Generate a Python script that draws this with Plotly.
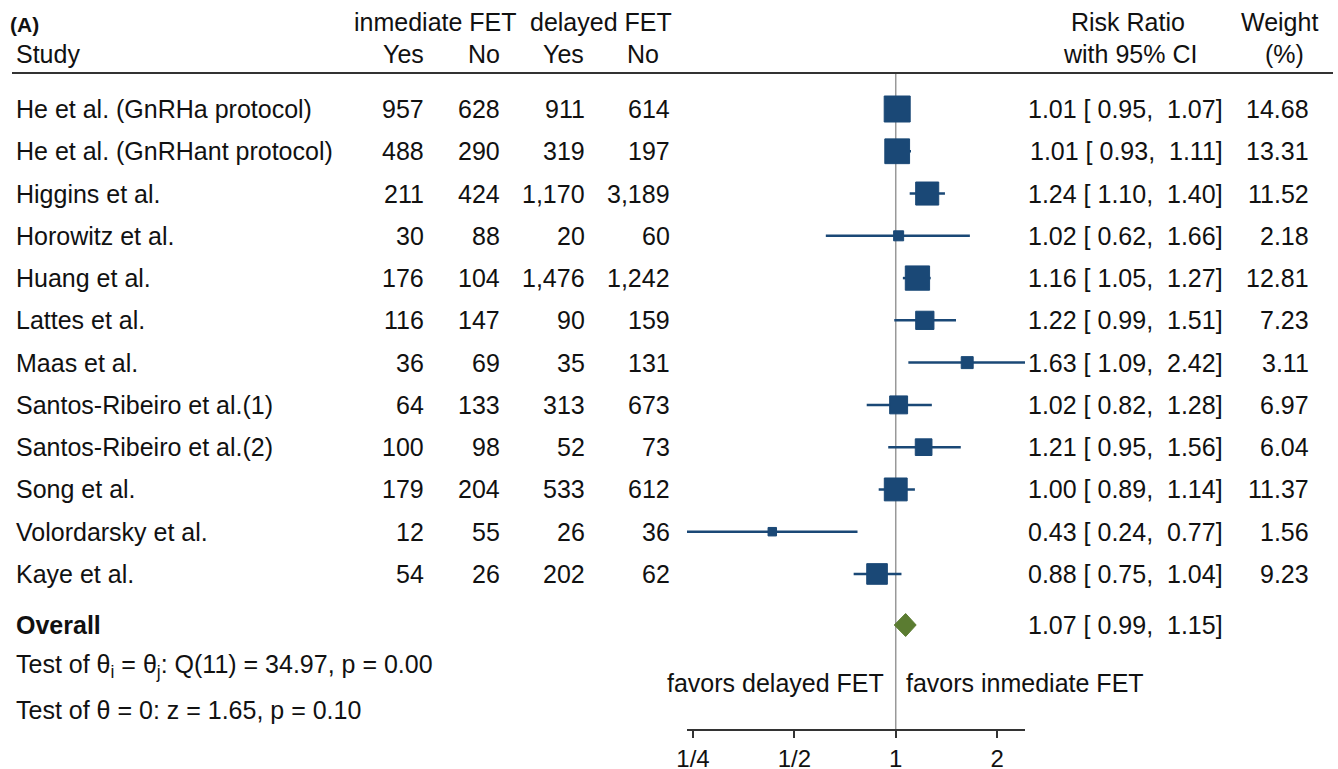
import numpy as np
import plotly.graph_objects as go

# ---- study data -------------------------------------------------------------
studies = [
    "He et al. (GnRHa protocol)", "He et al. (GnRHant protocol)", "Higgins et al.",
    "Horowitz et al.", "Huang et al.", "Lattes et al.", "Maas et al.",
    "Santos-Ribeiro et al.(1)", "Santos-Ribeiro et al.(2)", "Song et al.",
    "Volordarsky et al.", "Kaye et al.",
]
imm_yes = [957, 488, 211, 30, 176, 116, 36, 64, 100, 179, 12, 54]
imm_no = [628, 290, 424, 88, 104, 147, 69, 133, 98, 204, 55, 26]
del_yes = [911, 319, 1170, 20, 1476, 90, 35, 313, 52, 533, 26, 202]
del_no = [614, 197, 3189, 60, 1242, 159, 131, 673, 73, 612, 36, 62]
rr = [1.01, 1.01, 1.24, 1.02, 1.16, 1.22, 1.63, 1.02, 1.21, 1.00, 0.43, 0.88]
ci_low = [0.95, 0.93, 1.10, 0.62, 1.05, 0.99, 1.09, 0.82, 0.95, 0.89, 0.24, 0.75]
ci_high = [1.07, 1.11, 1.40, 1.66, 1.27, 1.51, 2.42, 1.28, 1.56, 1.14, 0.77, 1.04]
weight = [14.68, 13.31, 11.52, 2.18, 12.81, 7.23, 3.11, 6.97, 6.04, 11.37, 1.56, 9.23]

overall_rr, overall_low, overall_high = 1.07, 0.99, 1.15
het_text = "Test of θ<sub>i</sub> = θ<sub>j</sub>: Q(11) = 34.97, p = 0.00"
z_text = "Test of θ = 0: z = 1.65, p = 0.10"

tick_vals = [0.25, 0.5, 1, 2]
tick_text = ["1/4", "1/2", "1", "2"]

# ---- layout constants (pixels) ---------------------------------------------
W, H = 1338, 769
FONT = "Liberation Sans, Arial, Helvetica, sans-serif"
FS = 25
BLUE = "#1a4876"
GREEN = "#5b7c31"
INK = "#111111"

row0, row_step = 109, 42.27
rows = [row0 + i * row_step for i in range(len(studies))]
y_overall = 625
y_axis_line = 730

fig = go.Figure()

# confidence-interval whiskers
cx, cy = [], []
for lo, hi, y in zip(ci_low, ci_high, rows):
    cx += [lo, hi, None]
    cy += [y, y, None]
fig.add_trace(go.Scatter(x=cx, y=cy, mode="lines",
                         line=dict(color=BLUE, width=2.5),
                         hoverinfo="skip", showlegend=False))

# weight-scaled squares
w = np.array(weight)
sizes = 26 * np.sqrt(w / w.max())
fig.add_trace(go.Scatter(x=rr, y=rows, mode="markers",
                         marker=dict(symbol="square", size=sizes, color=BLUE,
                                     opacity=1,
                                     line=dict(color=BLUE, width=1)),
                         showlegend=False))

# pooled estimate diamond
half_h = 11.5
fig.add_trace(go.Scatter(
    x=[overall_low, overall_rr, overall_high, overall_rr, overall_low],
    y=[y_overall, y_overall - half_h, y_overall, y_overall + half_h, y_overall],
    mode="lines", fill="toself", fillcolor=GREEN,
    line=dict(color=GREEN, width=1), showlegend=False))

annotations = []


def txt(x, y, s, anchor="left", size=FS, bold=False):
    if bold:
        s = f"<b>{s}</b>"
    annotations.append(dict(
        x=x / W, y=y, xref="paper", yref="y", text=s, showarrow=False,
        xanchor=anchor, yanchor="middle", borderpad=0,
        font=dict(family=FONT, size=size, color=INK)))


def nb(s):
    return s.replace(" ", "\u00a0")


# header
txt(9, 24, "(A)", size=21, bold=True)
txt(435, 22, "inmediate FET", "center")
txt(601, 22, "delayed FET", "center")
txt(15, 54, "Study")
txt(425, 54, "Yes", "right")
txt(501, 54, "No", "right")
txt(585, 54, "Yes", "right")
txt(660, 54, "No", "right")
txt(1128, 22, "Risk Ratio", "center")
txt(1130, 54, "with 95% CI", "center")
txt(1279, 22, "Weight", "center")
txt(1284, 54, "(%)", "center")

# study rows
for i, y in enumerate(rows):
    txt(15, y, studies[i])
    txt(425, y, f"{imm_yes[i]:,}", "right")
    txt(501, y, f"{imm_no[i]:,}", "right")
    txt(586, y, f"{del_yes[i]:,}", "right")
    txt(671, y, f"{del_no[i]:,}", "right")
    txt(1224, y, nb(f"{rr[i]:.2f} [{ci_low[i]:5.2f}, {ci_high[i]:5.2f}]"), "right")
    txt(1310, y, f"{weight[i]:.2f}", "right")

# pooled rows
txt(15, y_overall, "Overall", bold=True)
txt(1224, y_overall, nb(f"{overall_rr:.2f} [{overall_low:5.2f}, {overall_high:5.2f}]"), "right")
txt(15, 666, het_text)
txt(15, 710, z_text)
txt(885, 683, "favors delayed FET", "right")
txt(905, 683, "favors inmediate FET", "left")

shapes = [
    # rule under the header
    dict(type="line", xref="paper", yref="y", x0=12 / W, x1=1333 / W,
         y0=73, y1=73, line=dict(color="#333333", width=2)),
    # line of no effect
    dict(type="line", xref="x", yref="y", x0=1, x1=1, y0=73, y1=y_axis_line,
         line=dict(color="#999999", width=1.5), layer="below"),
]

x_lo, x_hi = min(ci_low), max(ci_high)
fig.update_layout(
    width=W, height=H, margin=dict(l=0, r=0, t=0, b=0, autoexpand=False),
    paper_bgcolor="white", plot_bgcolor="white",
    showlegend=False, annotations=annotations, shapes=shapes,
    xaxis=dict(type="log", range=[np.log10(x_lo), np.log10(x_hi)],
               domain=[687 / W, 1025 / W], anchor="free",
               position=(H - y_axis_line) / H,
               showline=True, linecolor="#333333", linewidth=1.5,
               ticks="outside", ticklen=7, tickwidth=1.5, tickcolor="#333333",
               tickvals=tick_vals, ticktext=tick_text,
               tickfont=dict(family=FONT, size=24, color=INK),
               showgrid=False, zeroline=False, fixedrange=True,
               automargin=False),
    yaxis=dict(range=[H, 0], domain=[0, 1], visible=False,
               showgrid=False, zeroline=False, fixedrange=True,
               automargin=False),
)

fig.write_html("out.html")
